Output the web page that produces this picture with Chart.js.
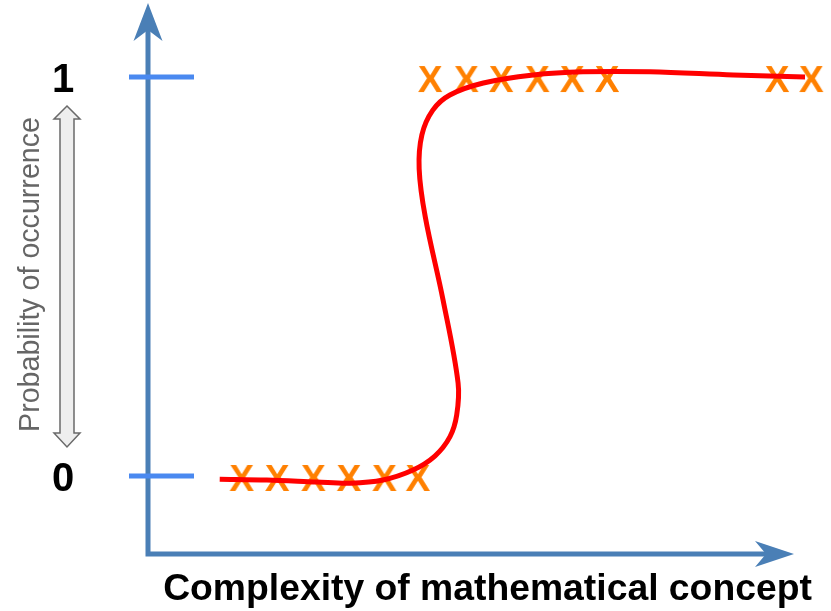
<!DOCTYPE html>
<html>
<head>
<meta charset="utf-8">
<script src="https://cdn.jsdelivr.net/npm/chart.js@4/dist/chart.umd.min.js"></script>
<style>
  html, body { margin: 0; padding: 0; background: #ffffff; }
  #wrap { width: 831px; height: 611px; }
</style>
</head>
<body>
<div id="wrap"><canvas id="c" width="831" height="611"></canvas></div>
<script>
// ---- data ----
const xTitle = 'Complexity of mathematical concept';
const yTitle = 'Probability of occurrence';
const yTickValues = [0, 1];
const yTickLabels = ['0', '1'];

const lowMarkerX  = [13.7, 18.9, 24.2, 29.4, 34.6, 39.5];
const lowMarkerY  = [0, 0, 0, 0, 0, 0];
const highMarkerX = [41.3, 46.6, 51.7, 57.0, 62.1, 67.2, 92.1, 97.1];
const highMarkerY = [1, 1, 1, 1, 1, 1, 1, 1];

const curveX = [10.5, 17.4, 24.7, 29.6, 34.4, 38.8, 42.0, 44.2, 45.2, 45.4, 43.2, 40.6, 39.7, 40.1, 41.7, 44.2, 49.1, 56.4, 63.7, 73.5, 85.7, 96.2];
const curveY = [-0.008, -0.010, -0.015, -0.018, -0.010, 0.015, 0.050, 0.098, 0.153, 0.233, 0.441, 0.649, 0.770, 0.855, 0.917, 0.955, 0.985, 1.005, 1.013, 1.013, 1.005, 1.000];

// ---- helpers ----
function pts(xs, ys) { return xs.map((x, i) => ({ x: x, y: ys[i] })); }

function makeXGlyph() {
  const cv = document.createElement('canvas');
  cv.width = 32; cv.height = 34;
  const g = cv.getContext('2d');
  g.fillStyle = '#ff8000';
  g.font = 'bold 37px "Liberation Sans", Arial, sans-serif';
  g.textAlign = 'center';
  g.textBaseline = 'alphabetic';
  g.fillText('X', 16, 32);
  return cv;
}
const xGlyph = makeXGlyph();

const AXIS = '#4a7fb6';
const TICK = '#4a89f0';
const FONT = '"Liberation Sans", Arial, sans-serif';

function fitFont(ctx, text, weight, width, start) {
  let s = start;
  ctx.font = weight + ' ' + s + 'px ' + FONT;
  const w = ctx.measureText(text).width;
  s = s * width / w;
  return weight + ' ' + s.toFixed(2) + 'px ' + FONT;
}

const decor = {
  id: 'decor',
  beforeDatasetsDraw(chart) {
    const ctx = chart.ctx;
    const xs = chart.scales.x, ys = chart.scales.y;
    const ax = xs.getPixelForValue(0);
    const ay = chart.chartArea.bottom;
    ctx.save();
    // axes lines
    ctx.strokeStyle = AXIS;
    ctx.lineWidth = 5;
    ctx.lineCap = 'butt';
    ctx.beginPath();
    ctx.moveTo(ax, ay + 2.5);
    ctx.lineTo(ax, 30);
    ctx.moveTo(ax, ay);
    ctx.lineTo(768, ay);
    ctx.stroke();
    // arrowheads
    ctx.fillStyle = AXIS;
    ctx.beginPath();
    ctx.moveTo(ax, 3);
    ctx.lineTo(ax + 14.5, 41);
    ctx.lineTo(ax, 30);
    ctx.lineTo(ax - 14.5, 41);
    ctx.closePath();
    ctx.fill();
    ctx.beginPath();
    ctx.moveTo(794, ay);
    ctx.lineTo(755, ay - 13);
    ctx.lineTo(766, ay);
    ctx.lineTo(755, ay + 13);
    ctx.closePath();
    ctx.fill();
    // y tick marks and labels
    yTickValues.forEach((v, i) => {
      const py = ys.getPixelForValue(v);
      ctx.strokeStyle = TICK;
      ctx.lineWidth = 5;
      ctx.beginPath();
      ctx.moveTo(129, py);
      ctx.lineTo(194, py);
      ctx.stroke();
      ctx.fillStyle = '#000';
      ctx.font = 'bold 40px ' + FONT;
      ctx.textAlign = 'center';
      ctx.textBaseline = 'alphabetic';
      ctx.fillText(yTickLabels[i], 63, py + 15);
    });
    // x title
    ctx.fillStyle = '#000';
    ctx.font = fitFont(ctx, xTitle, 'bold', 649, 32);
    ctx.textAlign = 'center';
    ctx.textBaseline = 'alphabetic';
    ctx.fillText(xTitle, 487.5, 600);
    // double arrow
    ctx.beginPath();
    ctx.moveTo(67, 106);
    ctx.lineTo(80, 119);
    ctx.lineTo(74, 119);
    ctx.lineTo(74, 433);
    ctx.lineTo(80, 433);
    ctx.lineTo(67, 447);
    ctx.lineTo(54, 433);
    ctx.lineTo(60, 433);
    ctx.lineTo(60, 119);
    ctx.lineTo(54, 119);
    ctx.closePath();
    ctx.fillStyle = '#eeeeee';
    ctx.fill();
    ctx.strokeStyle = '#6a6a6a';
    ctx.lineWidth = 1.5;
    ctx.lineJoin = 'miter';
    ctx.stroke();
    // y title
    ctx.save();
    ctx.translate(31, 274.5);
    ctx.rotate(-Math.PI / 2);
    ctx.fillStyle = '#666666';
    ctx.font = fitFont(ctx, yTitle, 'normal', 315, 25);
    ctx.textAlign = 'center';
    ctx.textBaseline = 'middle';
    ctx.fillText(yTitle, 0, 0);
    ctx.restore();
    ctx.restore();
  }
};

new Chart(document.getElementById('c'), {
  type: 'scatter',
  data: {
    datasets: [
      {
        label: 'curve',
        data: pts(curveX, curveY),
        showLine: true,
        borderColor: '#ff0000',
        borderWidth: 5,
        pointRadius: 0,
        tension: 0.35,
        fill: false,
        clip: false,
        order: 0
      },
      {
        label: 'low',
        data: pts(lowMarkerX, lowMarkerY),
        pointStyle: xGlyph,
        clip: false,
        order: 1
      },
      {
        label: 'high',
        data: pts(highMarkerX, highMarkerY),
        pointStyle: xGlyph,
        clip: false,
        order: 1
      }
    ]
  },
  options: {
    responsive: false,
    animation: false,
    devicePixelRatio: 1,
    layout: { autoPadding: false, padding: { left: 148, right: 0, top: 0, bottom: 57 } },
    plugins: { legend: { display: false }, tooltip: { enabled: false } },
    scales: {
      x: { type: 'linear', display: false, min: 0, max: 100 },
      y: { type: 'linear', display: false, min: -0.1955, max: 1.193 }
    }
  },
  plugins: [decor]
});
</script>
</body>
</html>
